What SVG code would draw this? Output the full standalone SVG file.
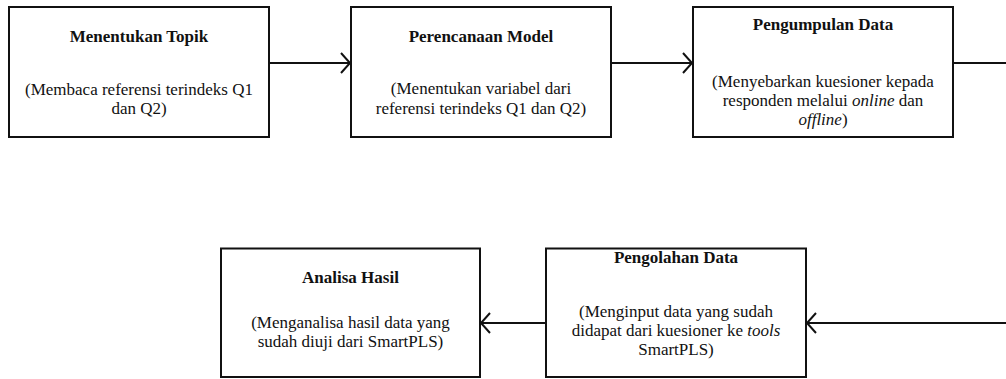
<svg xmlns="http://www.w3.org/2000/svg" width="1006" height="379" viewBox="0 0 1006 379">
<style>
.box{fill:#fff;stroke:#111;stroke-width:2}
.t{font-family:'Liberation Serif','Times New Roman',serif;font-size:17px;fill:#111;text-anchor:middle}
.b{font-weight:bold}
.i{font-style:italic}
.c{stroke:#111;stroke-width:2;fill:none}
</style>
<defs>
<marker id="ah" viewBox="-12 -12 14 24" markerWidth="14" markerHeight="24" refX="0" refY="0" orient="auto" markerUnits="userSpaceOnUse">
<path d="M-9,-10 L0,0 L-9,10" fill="none" stroke="#111" stroke-width="2"/>
</marker>
</defs>
<rect width="1006" height="379" fill="#fff"/>
<g id="connectors">
<line class="c" x1="269" y1="63" x2="350" y2="63" marker-end="url(#ah)"/>
<line class="c" x1="611" y1="63" x2="692" y2="63" marker-end="url(#ah)"/>
<line class="c" x1="953" y1="63" x2="1006" y2="63"/>
<line class="c" x1="1006" y1="323" x2="807" y2="323" marker-end="url(#ah)"/>
<line class="c" x1="546" y1="323" x2="481" y2="323" marker-end="url(#ah)"/>
</g>
<g id="menentukan-topik">
<rect class="box" x="9" y="7" width="260" height="130"/>
<text class="t b" x="139" y="42">Menentukan Topik</text>
<text class="t" x="139" y="95">(Membaca referensi terindeks Q1</text>
<text class="t" x="139" y="114">dan Q2)</text>
</g>
<g id="perencanaan-model">
<rect class="box" x="351" y="7" width="260" height="130"/>
<text class="t b" x="481" y="42">Perencanaan Model</text>
<text class="t" x="481" y="94">(Menentukan variabel dari</text>
<text class="t" x="481" y="114">referensi terindeks Q1 dan Q2)</text>
</g>
<g id="pengumpulan-data">
<rect class="box" x="693" y="7" width="260" height="130"/>
<text class="t b" x="823" y="30">Pengumpulan Data</text>
<text class="t" x="823" y="87">(Menyebarkan kuesioner kepada</text>
<text class="t" x="823" y="106">responden melalui <tspan class="i">online</tspan> dan</text>
<text class="t" x="823" y="125"><tspan class="i">offline</tspan>)</text>
</g>
<g id="pengolahan-data">
<rect class="box" x="546" y="248.5" width="260" height="128.5"/>
<text class="t b" x="676" y="263">Pengolahan Data</text>
<text class="t" x="676" y="317">(Menginput data yang sudah</text>
<text class="t" x="676" y="336">didapat dari kuesioner ke <tspan class="i">tools</tspan></text>
<text class="t" x="676" y="355">SmartPLS)</text>
</g>
<g id="analisa-hasil">
<rect class="box" x="221" y="248.5" width="259" height="128.5"/>
<text class="t b" x="350.5" y="283">Analisa Hasil</text>
<text class="t" x="350.5" y="328">(Menganalisa hasil data yang</text>
<text class="t" x="350.5" y="347">sudah diuji dari SmartPLS)</text>
</g>
</svg>
